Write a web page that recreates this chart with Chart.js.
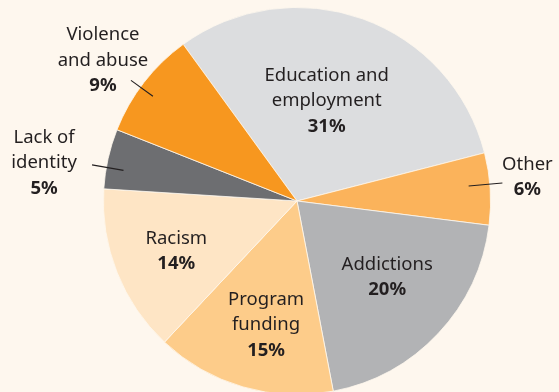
<!DOCTYPE html>
<html>
<head>
<meta charset="utf-8">
<script src="https://cdn.jsdelivr.net/npm/chart.js@4"></script>
<style>
  html, body { margin: 0; padding: 0; background: #fef7ee; overflow: hidden; }
  #wrap { position: absolute; left: 0; top: 0; width: 559px; height: 395px; }
</style>
</head>
<body>
<div id="wrap"><canvas id="c"></canvas></div>
<script>
// Shares of responses, in percent, clockwise from the upper left
const categories = [
  ['Education and', 'employment'],
  ['Other'],
  ['Addictions'],
  ['Program', 'funding'],
  ['Racism'],
  ['Lack of', 'identity'],
  ['Violence', 'and abuse']
];
const shares = [31, 6, 20, 15, 14, 5, 9];
const sliceColors = ['#dcdddf', '#fbb35b', '#b2b3b5', '#fdcc8a', '#fee5c5', '#6d6e71', '#f7971f'];

// Label placement per slice: inside labels sit at an angle/radius inside the arc,
// outside labels get a short leader line and a text offset from its outer end.
const labelPlacement = [
  { angle: 16.5, r: 0.54 },
  { angle: 85, r: 0.89, outside: true, lineEnd: 1.065, tx: 25, ty: -6 },
  { angle: 130.2, r: 0.61 },
  { angle: 194, r: 0.66 },
  { angle: 247.5, r: 0.675 },
  { angle: 280, r: 0.91, outside: true, lineEnd: 1.075, tx: -48, ty: -2 },
  { angle: 306, r: 0.92, outside: true, lineEnd: 1.06, tx: -28, ty: -20 }
];

const pieLabels = {
  id: 'pieLabels',
  afterDatasetsDraw(chart) {
    const ctx = chart.ctx;
    const arc0 = chart.getDatasetMeta(0).data[0];
    const cx = arc0.x, cy = arc0.y, R = arc0.outerRadius;
    const lh = 25.5;
    ctx.save();
    ctx.fillStyle = '#231f20';
    ctx.strokeStyle = '#231f20';
    ctx.lineWidth = 1.1;
    ctx.textAlign = 'center';
    ctx.textBaseline = 'middle';
    categories.forEach((lines, i) => {
      const p = labelPlacement[i];
      const a = (p.angle - 90) * Math.PI / 180;
      let x = cx + Math.cos(a) * R * p.r;
      let y = cy + Math.sin(a) * R * p.r;
      if (p.outside) {
        const x2 = cx + Math.cos(a) * R * p.lineEnd;
        const y2 = cy + Math.sin(a) * R * p.lineEnd;
        ctx.beginPath();
        ctx.moveTo(x, y);
        ctx.lineTo(x2, y2);
        ctx.stroke();
        x = x2 + p.tx;
        y = y2 + p.ty;
      }
      const rows = lines.concat([shares[i] + '%']);
      const top = y - (rows.length - 1) * lh / 2;
      rows.forEach((t, k) => {
        const bold = k === rows.length - 1;
        ctx.font = (bold ? 'bold ' : '') + '18.5px "Noto Sans"';
        ctx.fillText(t, x, top + k * lh);
      });
    });
    ctx.restore();
  }
};

new Chart(document.getElementById('c'), {
  type: 'pie',
  data: {
    labels: categories.map(l => l.join(' ')),
    datasets: [{
      data: shares,
      backgroundColor: sliceColors,
      borderColor: '#fef7ee',
      borderWidth: 0.8
    }]
  },
  options: {
    responsive: true,
    maintainAspectRatio: false,
    animation: false,
    rotation: -36,
    layout: { padding: { left: 103, right: 68, top: 7, bottom: 0 } },
    plugins: { legend: { display: false }, tooltip: { enabled: false } }
  },
  plugins: [pieLabels]
});
</script>
</body>
</html>
